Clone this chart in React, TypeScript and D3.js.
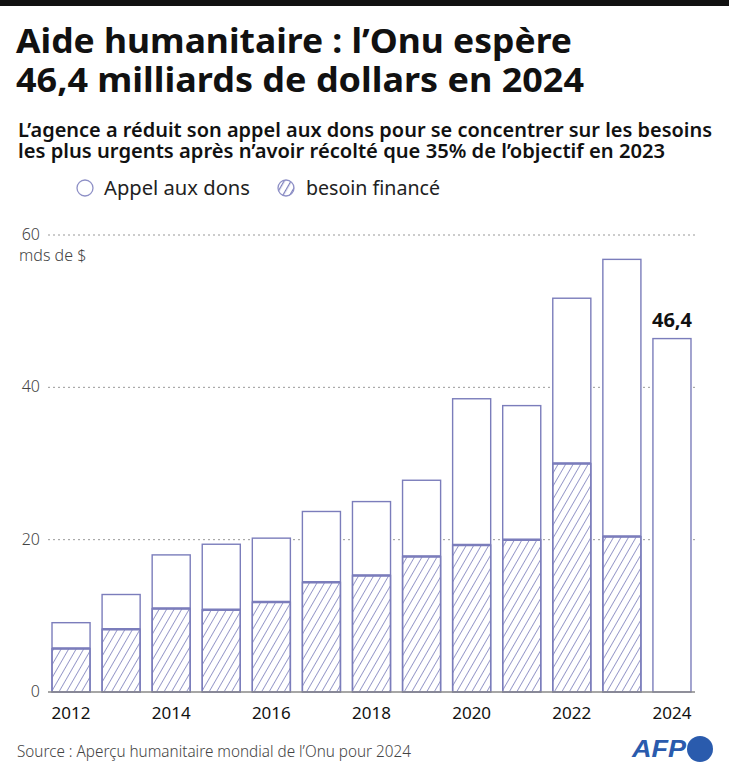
import React from "react";
import * as d3 from "d3";

const years = [2012, 2013, 2014, 2015, 2016, 2017, 2018, 2019, 2020, 2021, 2022, 2023, 2024];
const appeal = [9.1, 12.8, 18.0, 19.4, 20.2, 23.7, 25.0, 27.8, 38.5, 37.6, 51.7, 56.8, 46.4];
const funded = [5.7, 8.25, 10.95, 10.8, 11.8, 14.4, 15.3, 17.8, 19.3, 20.0, 30.0, 20.4, 0];
const yTicks = [0, 20, 40, 60];
const xTickYears = [2012, 2014, 2016, 2018, 2020, 2022, 2024];

const W = 729;
const H = 772;
const BAR = "#7b7dbb";
const FONT = "'Noto Sans', 'Open Sans', sans-serif";

export default function App() {
  const x = d3.scaleBand<number>().domain(years).range([46, 697]).paddingInner(0.24).paddingOuter(0.12);
  const y = d3.scaleLinear().domain([0, 60]).range([692, 235]);
  const lastIdx = years.length - 1;

  return (
    <svg width={W} height={H} style={{ position: "absolute", left: 0, top: 0, background: "#fff" }}>
      <defs>
        <pattern id="hatch" patternUnits="userSpaceOnUse" width="6.5" height="6.5" patternTransform="rotate(30)">
          <line x1="0" y1="0" x2="0" y2="6.5" stroke={BAR} strokeWidth="1.5" />
        </pattern>
        <pattern id="hatchLegend" patternUnits="userSpaceOnUse" width="6" height="6" patternTransform="rotate(30)">
          <line x1="0" y1="0" x2="0" y2="6" stroke={BAR} strokeWidth="2.5" />
        </pattern>
      </defs>
      <rect x={0} y={0} width={W} height={6} fill="#111" />

      <g fontFamily={FONT} fill="#111">
        <text x={16} y={53} fontSize={34} fontWeight={700} textLength={556} lengthAdjust="spacingAndGlyphs">
          Aide humanitaire : l’Onu espère
        </text>
        <text x={16} y={92} fontSize={34} fontWeight={700} textLength={568} lengthAdjust="spacingAndGlyphs">
          46,4 milliards de dollars en 2024
        </text>
        <text x={18} y={137} fontSize={19} fontWeight={600} textLength={694} lengthAdjust="spacingAndGlyphs">
          L’agence a réduit son appel aux dons pour se concentrer sur les besoins
        </text>
        <text x={18} y={158} fontSize={19} fontWeight={600} textLength={647} lengthAdjust="spacingAndGlyphs">
          les plus urgents après n’avoir récolté que 35% de l’objectif en 2023
        </text>
      </g>

      {/* legend */}
      <g fontFamily={FONT} fontSize={19} fill="#222">
        <circle cx={85} cy={188} r={8} fill="#fff" stroke="#8e90c6" strokeWidth={1.3} />
        <text x={104} y={195} textLength={146} lengthAdjust="spacingAndGlyphs">Appel aux dons</text>
        <circle cx={286} cy={188} r={8} fill="url(#hatchLegend)" stroke="#8e90c6" strokeWidth={1.3} />
        <text x={306} y={195} textLength={134} lengthAdjust="spacingAndGlyphs">besoin financé</text>
      </g>

      {/* grid and y labels */}
      <g fontFamily={FONT}>
        {yTicks.map((t) => (
          <g key={t}>
            {t > 0 && (
              <line x1={48} x2={695} y1={y(t)} y2={y(t)} stroke="#999" strokeWidth={1} strokeDasharray="2,3" />
            )}
            <text x={40} y={y(t) + 5} textAnchor="end" fontSize={16} fill="#444" fontWeight={300}>
              {t}
            </text>
          </g>
        ))}
        <text x={19} y={261} fontSize={16} fill="#444" fontWeight={300}>mds de $</text>
      </g>

      {/* bars */}
      <g>
        {years.map((yr, i) => {
          const bx = x(yr)!;
          const bw = x.bandwidth();
          return (
            <g key={yr}>
              <rect x={bx} y={y(appeal[i])} width={bw} height={y(0) - y(appeal[i])} fill="#fff" stroke={BAR} strokeWidth={1.4} />
              {funded[i] > 0 && (
                <>
                  <rect x={bx} y={y(funded[i])} width={bw} height={y(0) - y(funded[i])} fill="url(#hatch)" stroke={BAR} strokeWidth={1.4} />
                  <line x1={bx} x2={bx + bw} y1={y(funded[i])} y2={y(funded[i])} stroke={BAR} strokeWidth={2.5} />
                </>
              )}
            </g>
          );
        })}
        <line x1={48} x2={695} y1={y(0)} y2={y(0)} stroke="#888" strokeWidth={1.5} />
      </g>

      <text
        x={x(years[lastIdx])! + x.bandwidth() / 2}
        y={y(appeal[lastIdx]) - 12}
        textAnchor="middle"
        fontFamily={FONT}
        fontWeight={700}
        fontSize={20}
        fill="#111"
      >
        {String(appeal[lastIdx]).replace(".", ",")}
      </text>

      {/* x labels */}
      <g fontFamily={FONT} fontSize={17} fill="#111">
        {xTickYears.map((yr) => (
          <text key={yr} x={x(yr)! + x.bandwidth() / 2} y={719} textAnchor="middle">
            {yr}
          </text>
        ))}
      </g>

      <text x={17} y={757} fontFamily={FONT} fontSize={16} fill="#444" fontWeight={300} textLength={394} lengthAdjust="spacingAndGlyphs">
        Source : Aperçu humanitaire mondial de l’Onu pour 2024
      </text>

      {/* AFP mark */}
      <g>
        <text x={632} y={757} fontFamily="'Liberation Sans', Arial, sans-serif" fontWeight={700} fontStyle="italic" fontSize={24} fill="#2a5bad" textLength={54} lengthAdjust="spacingAndGlyphs">
          AFP
        </text>
        <circle cx={700} cy={749} r={13} fill="#2a5bad" />
      </g>
    </svg>
  );
}
